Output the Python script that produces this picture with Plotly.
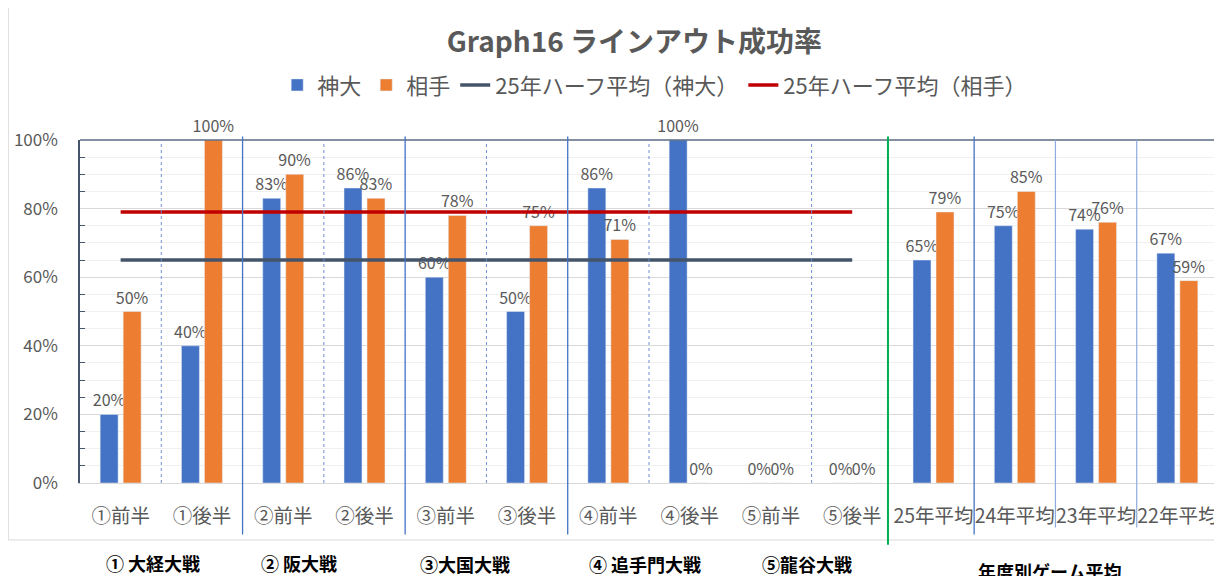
import plotly.graph_objects as go

categories = ["①前半", "①後半", "②前半", "②後半", "③前半", "③後半", "④前半", "④後半",
              "⑤前半", "⑤後半", "25年平均", "24年平均", "23年平均", "22年平均"]
shindai = [0.20, 0.40, 0.83, 0.86, 0.60, 0.50, 0.86, 1.00, 0.00, 0.00, 0.65, 0.75, 0.74, 0.67]
aite = [0.50, 1.00, 0.90, 0.83, 0.78, 0.75, 0.71, 0.00, 0.00, 0.00, 0.79, 0.85, 0.76, 0.59]
half_cats = categories[:10]
avg_shindai = [0.65] * 10
avg_aite = [0.79] * 10
group_labels = ["① 大経大戦", "② 阪大戦", "③大国大戦", "④ 追手門大戦", "⑤龍谷大戦", "年度別ゲーム平均"]
group_centers = [0.40, 2.19, 4.24, 6.45, 8.44, 11.43]
group_ys = [-0.233, -0.233, -0.236, -0.236, -0.236, -0.256]

FONT = "Noto Sans CJK JP"
GRAY = "#595959"

fig = go.Figure()
fig.add_trace(go.Bar(x=categories, y=shindai, name="神大", marker_color="#4472c4",
                     text=[f"{v:.0%}" for v in shindai], textposition="outside",
                     constraintext="none", cliponaxis=False,
                     textfont=dict(size=16, color=GRAY, family=FONT)))
fig.add_trace(go.Bar(x=categories, y=aite, name="相手", marker_color="#ed7d31",
                     text=[f"{v:.0%}" for v in aite], textposition="outside",
                     constraintext="none", cliponaxis=False,
                     textfont=dict(size=16, color=GRAY, family=FONT)))
fig.add_trace(go.Scatter(x=half_cats, y=avg_shindai, mode="lines", name="25年ハーフ平均（神大）",
                         line=dict(color="#44546a", width=3.5)))
fig.add_trace(go.Scatter(x=half_cats, y=avg_aite, mode="lines", name="25年ハーフ平均（相手）",
                         line=dict(color="#c00000", width=3.5)))

shapes = []
# chart border
shapes.append(dict(type="rect", xref="paper", yref="paper", x0=-0.063, x1=1.003, y0=-0.166, y1=1.397,
                   line=dict(color="#d9d9d9", width=1), layer="below"))
# top plot border
shapes.append(dict(type="line", xref="paper", yref="paper", x0=0, x1=1, y0=1, y1=1,
                   line=dict(color="#5b6b82", width=1.5)))
# dashed half separators
for b in [0.5, 2.5, 4.5, 6.5, 8.5]:
    shapes.append(dict(type="line", xref="x", yref="paper", x0=b, x1=b, y0=0, y1=1,
                       line=dict(color="#6f8fd0", width=1, dash="dot")))
# solid match separators
for b in [1.5, 3.5, 5.5, 10.5]:
    shapes.append(dict(type="line", xref="x", yref="paper", x0=b, x1=b, y0=-0.15, y1=1.01,
                       line=dict(color="#4472c4", width=1.3)))
for b in [11.5, 12.5]:
    shapes.append(dict(type="line", xref="x", yref="paper", x0=b, x1=b, y0=-0.13, y1=1.0,
                       line=dict(color="#8faadc", width=1.2)))
# green separator
shapes.append(dict(type="line", xref="x", yref="paper", x0=9.44, x1=9.44, y0=-0.18, y1=1.01,
                   line=dict(color="#00b050", width=2)))

annotations = []
for lbl, cx, gy in zip(group_labels, group_centers, group_ys):
    annotations.append(dict(x=cx, y=gy, xref="x", yref="paper", text=f"<b>{lbl}</b>",
                            showarrow=False, font=dict(size=18, color="#000000", family=FONT),
                            yanchor="middle"))

fig.update_layout(
    width=1214, height=568,
    margin=dict(l=72, r=4, t=132, b=93),
    paper_bgcolor="white", plot_bgcolor="white",
    font=dict(family=FONT, color=GRAY),
    title=dict(text="<b>Graph16 ラインアウト成功率</b>", x=0.516, xanchor="center", y=0.94,
               yanchor="middle", font=dict(size=28, color=GRAY, family=FONT)),
    legend=dict(orientation="h", x=0.505, xanchor="center", y=1.16, yanchor="middle",
                font=dict(size=22, color=GRAY, family=FONT), itemwidth=30,
                bgcolor="rgba(0,0,0,0)"),
    barmode="group", bargap=0.434, bargroupgap=0.22,
    shapes=shapes, annotations=annotations,
    xaxis=dict(type="category", showline=True, linecolor="#d9d9d9", ticks="",
               tickfont=dict(size=19.5, color=GRAY, family=FONT), ticklabelstandoff=16,
               tickangle=0, range=[-0.5, 13.5], automargin=False),
    yaxis=dict(range=[0, 1], dtick=0.2, tickformat=".0%", showgrid=True, gridcolor="#d9d9d9",
               showline=True, linecolor="#44546a", mirror=True, linewidth=1.5,
               tickfont=dict(size=17, color=GRAY, family=FONT), ticks="", ticklabelstandoff=17,
               zeroline=False, automargin=False,
               minor=dict(dtick=0.05, showgrid=True, gridcolor="#f0f0f0", ticks="inside",
                          ticklen=5, tickcolor="#44546a")),
)

fig.write_html("out.html")
